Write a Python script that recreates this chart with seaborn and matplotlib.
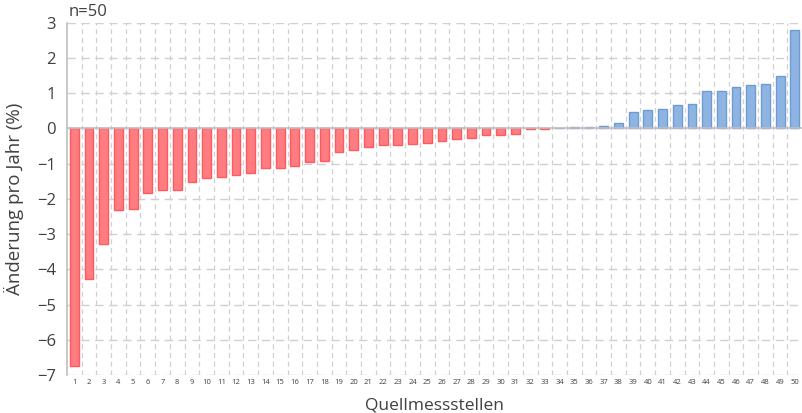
import pandas as pd
import numpy as np
import matplotlib
matplotlib.use('Agg')
import matplotlib.pyplot as plt
import seaborn as sns
from matplotlib.ticker import MultipleLocator, FixedLocator

# Data: change per year (%) for each source monitoring station, sorted
stations = [str(i) for i in range(1, 51)]
change = [-6.75, -4.29, -3.27, -2.33, -2.29, -1.83, -1.75, -1.75, -1.52, -1.42,
          -1.39, -1.33, -1.26, -1.14, -1.14, -1.07, -0.96, -0.93, -0.67, -0.61,
          -0.53, -0.47, -0.47, -0.45, -0.43, -0.37, -0.31, -0.28, -0.19, -0.19,
          -0.16, -0.03, -0.03, 0.0, 0.03, 0.03, 0.05, 0.15, 0.47, 0.51,
          0.54, 0.66, 0.69, 1.07, 1.07, 1.17, 1.23, 1.25, 1.47, 2.78]
n_label = 'n=50'

df = pd.DataFrame({'Station': stations, 'Change': change})
df['Sign'] = np.where(df['Change'] < 0, 'neg', 'pos')

sns.set_style('white')
plt.rcParams['font.family'] = ['Open Sans', 'DejaVu Sans']
text_col = '#404040'

fig = plt.figure(figsize=(8.03, 4.13), dpi=100)
ax = fig.add_axes([0.0834, 0.092, 0.9156, 0.8535])

fill = {'neg': '#FF7C80', 'pos': '#8EB4E3'}
edge = {'neg': '#FF5A5F', 'pos': '#6F9BD3'}

sns.barplot(data=df, x='Station', y='Change', hue='Sign', palette=fill,
            dodge=False, width=0.6, legend=False, ax=ax, linewidth=1,
            saturation=1)
for patch, s in zip(ax.patches, df['Sign']):
    patch.set_edgecolor(edge[s])

ax.set_ylim(-7, 3)
ax.set_xlim(-0.5, 49.5)
ax.yaxis.set_major_locator(MultipleLocator(1))
ax.xaxis.set_minor_locator(FixedLocator(np.arange(0.5, 49.5, 1)))

ax.grid(axis='y', which='major', color='#D0D0D0', linestyle=(0, (6, 4)), linewidth=1)
ax.grid(axis='x', which='minor', color='#D0D0D0', linestyle=(0, (4, 3)), linewidth=0.9)
ax.set_axisbelow(True)
ax.axhline(0, color='#BFBFBF', linewidth=1.2, zorder=1.5)

for side in ['top', 'right', 'bottom']:
    ax.spines[side].set_visible(False)
ax.spines['left'].set_color('#BFBFBF')
ax.spines['left'].set_linewidth(1.2)

ax.tick_params(axis='y', labelsize=12, colors=text_col, length=0, pad=8)
ax.tick_params(axis='x', which='major', labelsize=5.5, colors=text_col, length=0, pad=3)
ax.tick_params(axis='x', which='minor', length=0)

ax.set_xlabel('Quellmessstellen', fontsize=12.5, color=text_col, labelpad=8)
ax.set_ylabel('Änderung pro Jahr (%)', fontsize=13.5, color=text_col, labelpad=9)
fig.text(0.085, 0.972, n_label, fontsize=12, color=text_col, va='center')

plt.savefig('out.png', dpi=100)
